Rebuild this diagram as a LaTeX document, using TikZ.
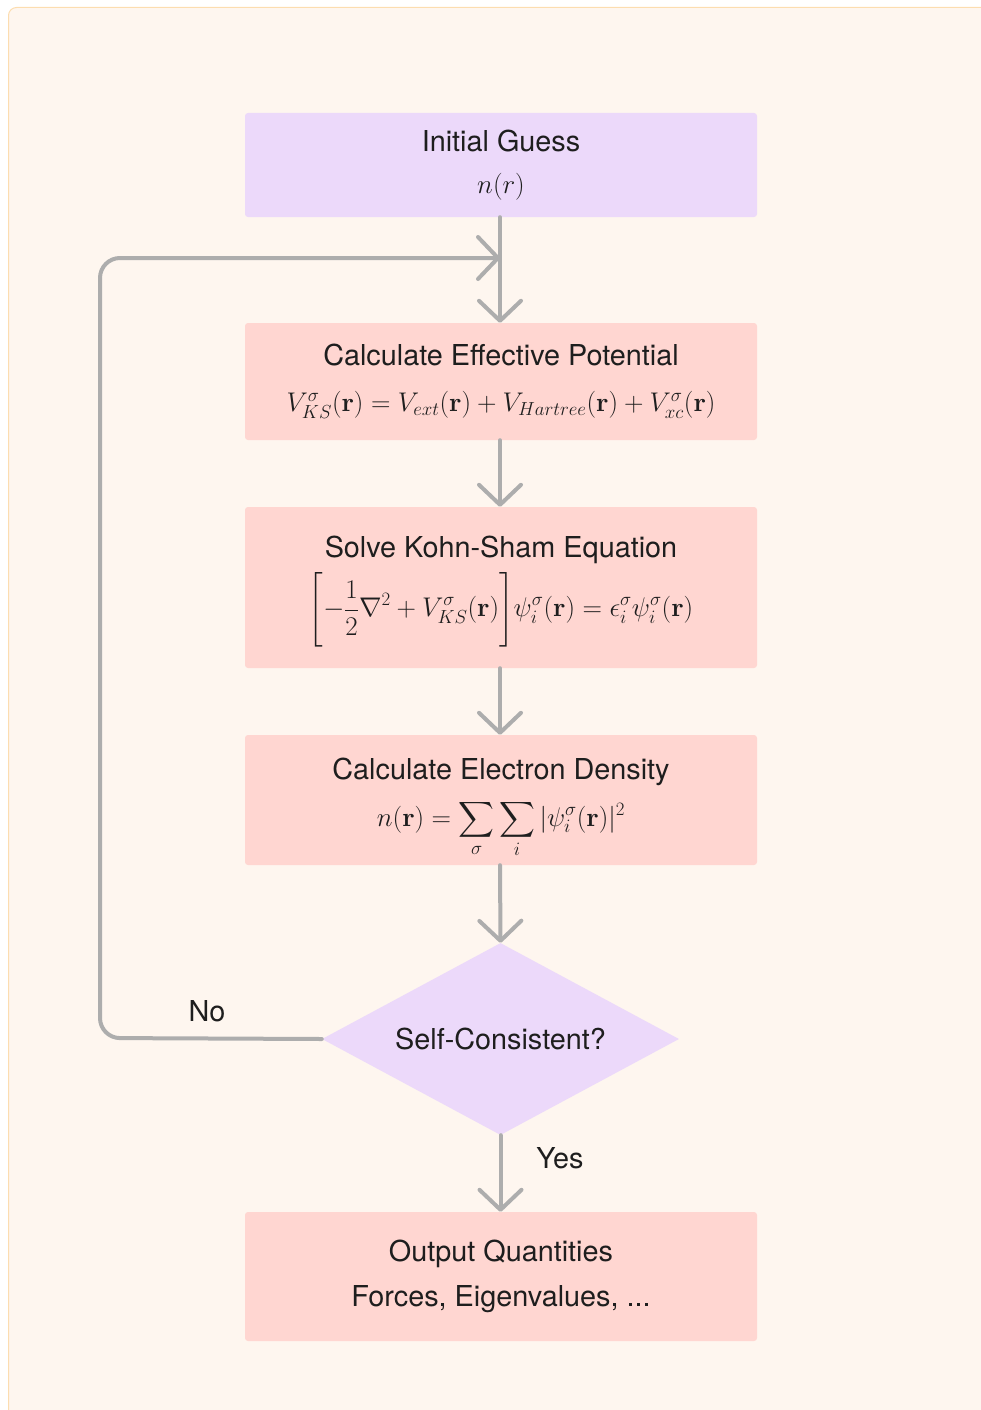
\RequirePackage{fix-cm}
\documentclass[tikz,border=0pt]{standalone}
\usepackage{amsmath}
\usepackage[no-math]{fontspec}
\setmainfont{TeX Gyre Heros}
\usetikzlibrary{arrows.meta,shapes.geometric}
\definecolor{bgc}{HTML}{FEF6EF}
\definecolor{bgborder}{HTML}{FCDDB0}
\definecolor{lav}{HTML}{ECD9FA}
\definecolor{pinkc}{HTML}{FFD6D1}
\definecolor{grayc}{HTML}{ADADAD}
\definecolor{txt}{HTML}{1E1E1E}
\makeatletter
\newcommand{\mybigl}[1]{\mathopen{\bBigg@{2.05}{#1}}}
\newcommand{\mybigr}[1]{\mathclose{\bBigg@{2.05}{#1}}}
\makeatother
\newcommand{\mth}[1]{{\fontsize{27}{32}\selectfont$#1$}}
\tikzset{
  x=1pt, y=-1pt,
  box/.style={rectangle, rounded corners=3pt, minimum width=512pt, inner sep=0pt, align=center, text=txt, font=\fontsize{28.8}{34}\selectfont},
  lavbox/.style={box, fill=lav},
  pinkbox/.style={box, fill=pinkc},
  content/.style={inner sep=0pt, align=center, text=txt, font=\fontsize{28.8}{34}\selectfont},
  decision/.style={diamond, aspect=1.86, fill=lav, minimum width=357pt, minimum height=192pt, inner sep=0pt, text=txt, font=\fontsize{28.8}{34}\selectfont},
  arr/.style={draw=grayc, line width=4pt, line cap=round, -{Straight Barb[length=20pt,width=42pt,round]}},
  edgelbl/.style={text=txt, font=\fontsize{28.8}{34}\selectfont, inner sep=0pt},
}
\begin{document}
\begin{tikzpicture}
\clip (0,0) rectangle (981,1410);
\fill[bgc, draw=bgborder, line width=1pt, rounded corners=8pt] (8.5,7.5) rectangle (1000,1430);

\node[lavbox, minimum height=104pt] (init) at (501,165) {Initial Guess\\[8pt] \mth{n(r)}};
\node[pinkbox, minimum height=117pt] (eff) at (501,381.5) {Calculate Effective Potential\\[12pt] \mth{V^{\sigma}_{KS}(\mathbf{r}) = V_{ext}(\mathbf{r}) + V_{Hartree}(\mathbf{r}) + V^{\sigma}_{xc}(\mathbf{r})}};
\node[pinkbox, minimum height=161pt] (ks) at (501,587.5) {};
\node[content] (ksT) at (501,550) {Solve Kohn-Sham Equation};
\node[content] (ksF) at (501,610) {\mth{\displaystyle\mybigl{[}-\frac{1}{2}\nabla^2 + V^{\sigma}_{KS}(\mathbf{r})\mybigr{]}\psi^{\sigma}_i(\mathbf{r}) = \epsilon^{\sigma}_i\psi^{\sigma}_i(\mathbf{r})}};
\node[pinkbox, minimum height=130pt] (dens) at (501,800) {};
\node[content, yshift=-8pt] (densT) at (dens.center) {Calculate Electron Density\\[13pt] \mth{\displaystyle n(\mathbf{r}) = \sum_{\sigma}\sum_{i}|\psi^{\sigma}_i(\mathbf{r})|^2}};
\node[decision] (dec) at (500.5,1039) {Self-Consistent?};
\node[pinkbox, minimum height=129pt] (out) at (501,1276.5) {Output Quantities\\[11pt] Forces, Eigenvalues, ...};

\coordinate (join) at (500,258);
\coordinate (loopbot) at (100,1038);
\coordinate (looptop) at (100,258);

\draw[arr] (init.south -| join) -- (eff.north -| join);
\draw[arr] (eff.south -| join) -- (ks.north -| join);
\draw[arr] (ks.south -| join) -- (dens.north -| join);
\draw[arr] (dens.south -| join) -- (dec.north);
\draw[arr] (dec.south) -- (out.north -| dec.south);
\draw[arr, rounded corners=20pt] (dec.west) -- (loopbot) -- (looptop) -- (join);

\node[edgelbl] (no) at (207,1011) {No};
\node[edgelbl] (yes) at (560,1158) {Yes};
\end{tikzpicture}
\end{document}
